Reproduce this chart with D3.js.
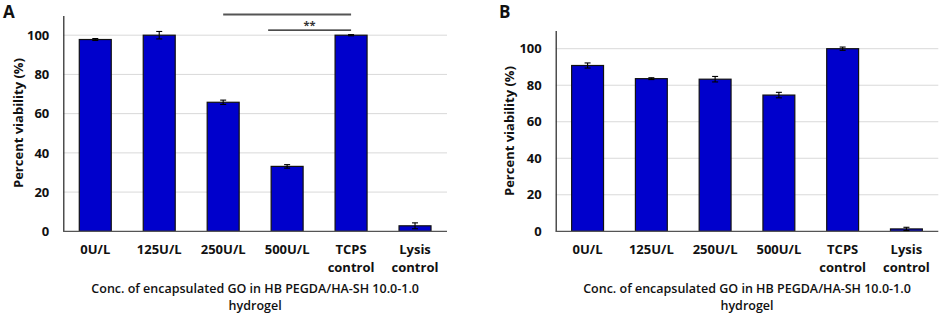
<!DOCTYPE html>
<html><head><meta charset="utf-8">
<script src="https://cdn.jsdelivr.net/npm/d3@7"></script>
<style>
body{margin:0;background:#fff;}
svg{display:block;}
text{font-family:"Open Sans","Noto Sans",sans-serif;}
</style></head>
<body>
<svg id="chart" width="941" height="317"></svg>
<script>
const categories = ["0U/L","125U/L","250U/L","500U/L","TCPS control","Lysis control"];
const valuesA = [97.8, 100, 65.8, 33.1, 100, 2.8];
const errorsA = [0.5, 1.9, 1.1, 0.9, 0.3, 1.5];
const valuesB = [90.8, 83.6, 83.3, 74.6, 100, 1.3];
const errorsB = [1.4, 0.5, 1.5, 1.5, 0.9, 0.9];
const yTicks = [0, 20, 40, 60, 80, 100];
const yTitle = "Percent viability (%)";
const xTitle = ["Conc. of encapsulated GO in HB PEGDA/HA-SH 10.0-1.0", "hydrogel"];

const svg = d3.select("#chart");

function panel(cfg){
  const g = svg.append("g");
  const x = d3.scaleBand().domain(categories).range([cfg.left, cfg.right]).paddingInner(0.5).paddingOuter(0.25);
  const y = d3.scaleLinear().domain([0, 110]).range([cfg.bottom, cfg.top]);

  g.selectAll("line.grid").data(yTicks.filter(d=>d>0)).join("line")
    .attr("x1", cfg.left).attr("x2", cfg.right)
    .attr("y1", d=>y(d)).attr("y2", d=>y(d))
    .attr("stroke", "#d9d9d9").attr("stroke-width", 1);

  const ya = d3.axisLeft(y).tickValues(yTicks).tickSize(0).tickPadding(14);
  const yg = g.append("g").attr("transform", `translate(${cfg.left},0)`).call(ya);
  yg.select(".domain").attr("stroke", "#222").attr("stroke-width", 1.2);
  yg.selectAll("text").attr("font-size", 13).attr("font-weight", 700).attr("fill", "#111");

  g.selectAll("rect.bar").data(cfg.values).join("rect")
    .attr("x", (d,i)=>x(categories[i])).attr("width", x.bandwidth())
    .attr("y", d=>y(d)).attr("height", d=>y(0)-y(d))
    .attr("fill", "#0000cc").attr("stroke", "#111").attr("stroke-width", 1.2);

  g.append("line").attr("x1", cfg.left).attr("x2", cfg.right)
    .attr("y1", y(0)).attr("y2", y(0)).attr("stroke", "#555").attr("stroke-width", 1.2);

  cfg.values.forEach((v,i)=>{
    const cx = x(categories[i]) + x.bandwidth()/2;
    const e = cfg.errors[i];
    const eg = g.append("g").attr("stroke", "#000").attr("stroke-width", 1.1);
    eg.append("line").attr("x1", cx).attr("x2", cx).attr("y1", y(v+e)).attr("y2", y(v-e));
    eg.append("line").attr("x1", cx-3).attr("x2", cx+3).attr("y1", y(v+e)).attr("y2", y(v+e));
    eg.append("line").attr("x1", cx-3).attr("x2", cx+3).attr("y1", y(v-e)).attr("y2", y(v-e));
  });

  categories.forEach(c=>{
    const cx = x(c) + x.bandwidth()/2;
    const parts = c.split(" ");
    const t = g.append("text").attr("text-anchor", "middle").attr("font-size", 13)
      .attr("font-weight", 700).attr("fill", "#111");
    parts.forEach((p,k)=>{
      t.append("tspan").attr("x", cx).attr("y", 254 + k*17.5).text(p);
    });
  });

  const cxT = (cfg.left + cfg.right)/2;
  xTitle.forEach((s,k)=>{
    g.append("text").attr("x", cxT).attr("y", 292.5 + k*17).attr("text-anchor", "middle")
      .attr("font-size", 12.5).attr("font-weight", 600).attr("fill", "#111").text(s);
  });

  g.append("text").attr("transform", `translate(${cfg.ytx},${cfg.yty}) rotate(-90)`)
    .attr("text-anchor", "middle").attr("dy", "0.35em")
    .attr("font-size", 13).attr("font-weight", 700).attr("fill", "#111").text(yTitle);

  g.append("text").attr("x", cfg.lx).attr("y", 17.5).attr("font-size", 17).attr("font-weight", 700)
    .attr("font-family", "Liberation Sans, Arial, sans-serif").attr("fill", "#111").text(cfg.letter);

  return {x, y, g};
}

const A = panel({left:63.3, right:447, top:231.3-110*1.961, bottom:231.3, values:valuesA, errors:errorsA, ytx:18, yty:123, lx:3, letter:"A"});
panel({left:555.7, right:938.3, top:231.3-110*1.826, bottom:231.3, values:valuesB, errors:errorsB, ytx:509, yty:131, lx:499, letter:"B"});

// significance brackets; "start" = from bar centre ("mid") or just left of bar ("edge")
const sig = [
  {from:"250U/L", to:"TCPS control", level:110.5, label:"", color:"#555", w:2, start:"mid"},
  {from:"500U/L", to:"TCPS control", level:102.6, label:"**", color:"#111", w:1.2, start:"edge"}
];
sig.forEach(s=>{
  const x1 = s.start === "mid" ? A.x(s.from) + A.x.bandwidth()/2 : A.x(s.from) - 3;
  const x2 = A.x(s.to) + A.x.bandwidth()/2;
  const yy = A.y(s.level);
  A.g.append("line").attr("x1", x1).attr("x2", x2).attr("y1", yy).attr("y2", yy)
    .attr("stroke", s.color).attr("stroke-width", s.w);
  if (s.label) A.g.append("text").attr("x", (x1+x2)/2).attr("y", yy-1).attr("text-anchor","middle")
    .attr("font-size", 11).attr("font-weight", 700).attr("fill", "#333").text(s.label);
});
</script>
</body></html>
